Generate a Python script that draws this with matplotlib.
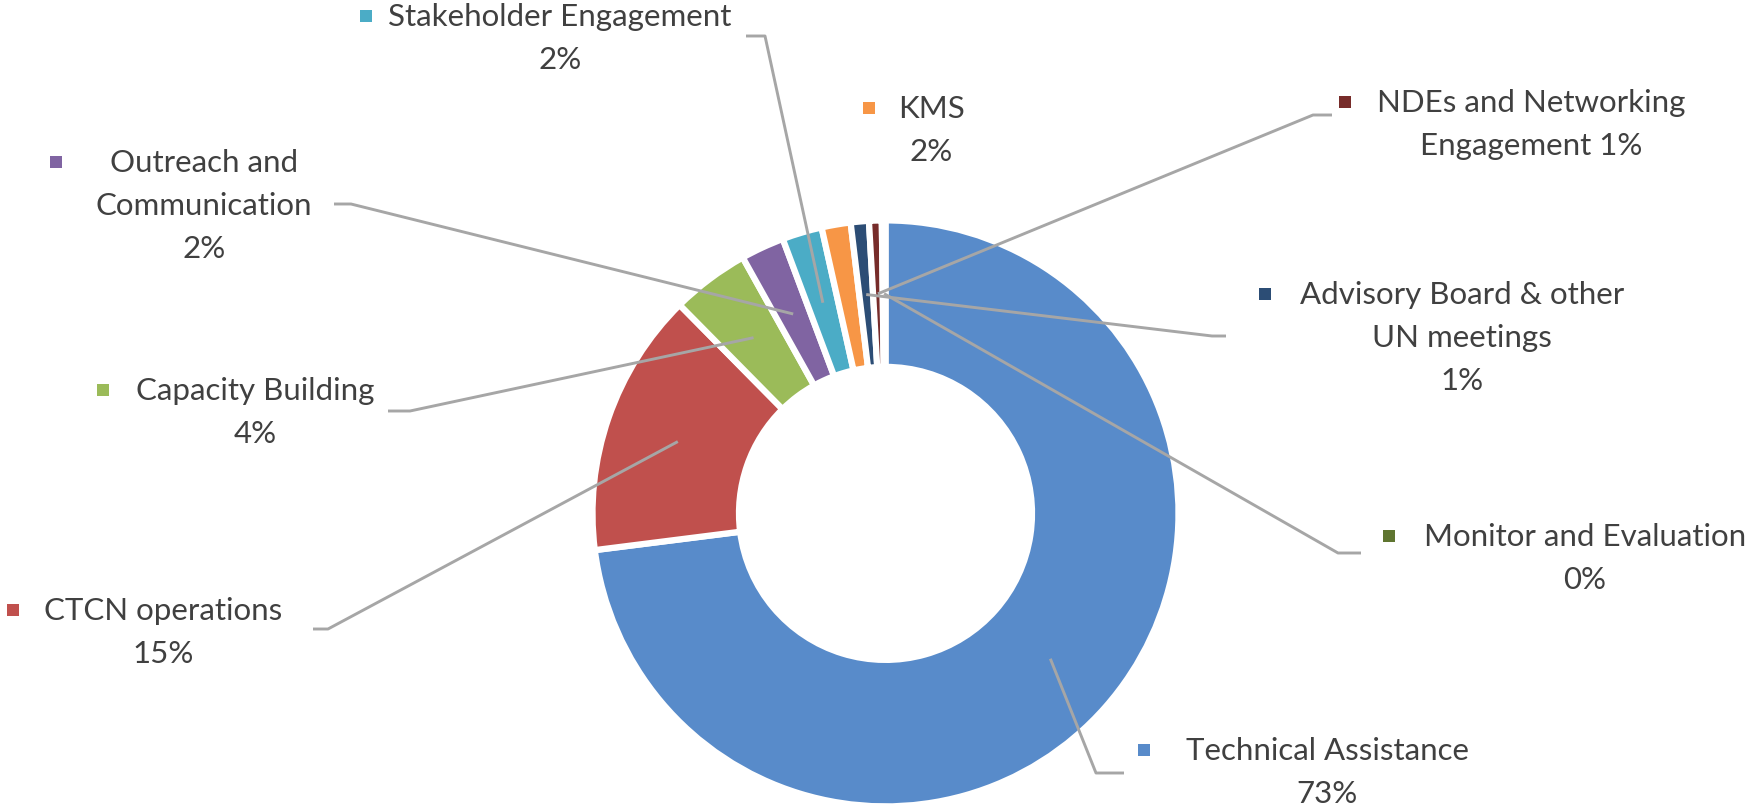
import matplotlib
matplotlib.use('Agg')
import matplotlib.pyplot as plt
import numpy as np

# data
categories = ['Technical Assistance', 'CTCN operations', 'Capacity Building',
              'Outreach and Communication', 'Stakeholder Engagement', 'KMS',
              'Advisory Board & other UN meetings', 'NDEs and Networking Engagement',
              'Monitor and Evaluation']
values = [73.0, 14.6, 4.3, 2.4, 2.2, 1.6, 1.0, 0.7, 0.2]
label_lines = [
    ['Technical Assistance', '73%'],
    ['CTCN operations', '15%'],
    ['Capacity Building', '4%'],
    ['Outreach and', 'Communication', '2%'],
    ['Stakeholder Engagement', '2%'],
    ['KMS', '2%'],
    ['Advisory Board & other', 'UN meetings', '1%'],
    ['NDEs and Networking', 'Engagement 1%'],
    ['Monitor and Evaluation', '0%'],
]
colors = ['#588BCA', '#C0504D', '#9BBB59', '#8064A2', '#4BACC6', '#F79646',
          '#2C4D75', '#772C2A', '#5F7530']

W, H = 1763, 812

# label layout in pixels (y measured from top): text center x, first line y,
# marker x, leader start / elbow (None = no leader)
layout = [
    (1327, 751, 1144, (1124, 774), (1096, 774)),
    (163, 611, 13, (313, 630), (328, 630)),
    (255, 391, 103, (388, 412), (410, 412)),
    (204, 163, 56, (334, 205), (351, 205)),
    (560, 17, 366, (746, 37), (765, 37)),
    (931, 109, 869, None, None),
    (1462, 295, 1265, (1226, 337), (1212, 337)),
    (1531, 103, 1345, (1332, 116), (1313, 116)),
    (1585, 537, 1389, (1361, 554), (1338, 554)),
]
line_gap = 43

fig = plt.figure(figsize=(W / 100, H / 100), dpi=100)
ax = fig.add_axes([0, 0, 1, 1])

cx, cy = 885.5, H - 514.4
R = 293
ring = 0.5

wedges, _ = ax.pie(values, colors=colors, startangle=90, counterclock=False,
                   radius=R, center=(cx, cy), frame=True,
                   wedgeprops=dict(width=R * ring, edgecolor='white', linewidth=4.5))
ax.set_xlim(0, W)
ax.set_ylim(0, H)
ax.set_aspect('equal')
ax.axis('off')

mid_r = R * (1 - ring / 2)
for i, w in enumerate(wedges):
    tx, ty, mx, start, elbow = layout[i]
    lines = label_lines[i]
    for k, line in enumerate(lines):
        ax.text(tx, H - (ty + k * line_gap), line, ha='center', va='center',
                fontsize=22.5, color='#404040', family='Lato')
    ax.scatter([mx], [H - ty], marker='s', s=70, color=colors[i], linewidths=0)
    if start is not None:
        ang = np.deg2rad((w.theta1 + w.theta2) / 2)
        ex = cx + mid_r * np.cos(ang)
        ey = cy + mid_r * np.sin(ang)
        ax.plot([start[0], elbow[0], ex], [H - start[1], H - elbow[1], ey],
                color='#A6A6A6', linewidth=2.1, solid_capstyle='butt', zorder=5)

fig.savefig('out.png', dpi=100, facecolor='white')
